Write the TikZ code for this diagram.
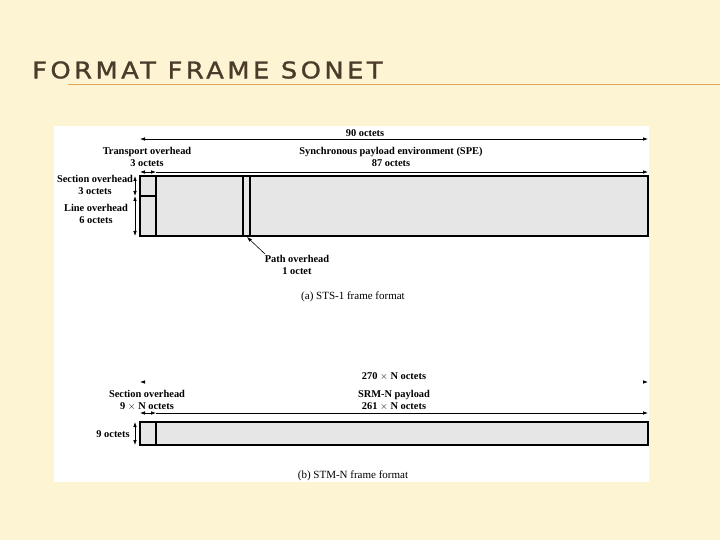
\documentclass[tikz,border=0pt]{standalone}
\usepackage{fontspec}
\setmainfont{Liberation Serif}
\setsansfont{Liberation Sans}
\newfontfamily\titlefont{DejaVu Sans}[FakeStretch=1.12,FakeBold=1.2,LetterSpace=15]
\usetikzlibrary{arrows.meta}

\definecolor{slidebg}{HTML}{FCF4D2}
\definecolor{titlebrown}{HTML}{4A3B2A}
\definecolor{ruleorange}{HTML}{E3A75A}
\definecolor{framegray}{HTML}{E6E6E6}

\tikzset{
  lbl/.style={font=\fontsize{10.4}{11.8}\selectfont\bfseries, align=center, inner sep=0pt},
  caption/.style={font=\fontsize{11}{12}\selectfont, inner sep=0pt},
  dimboth/.style={line width=0.8pt, {Latex[length=5pt,width=3.6pt]}-{Latex[length=5pt,width=3.6pt]}},
  dimright/.style={line width=0.8pt, -{Latex[length=5pt,width=3.6pt]}},
  framebox/.style={line width=1.6pt, fill=framegray},
  colline/.style={line width=1.6pt},
}

\begin{document}
\begin{tikzpicture}[x=1pt,y=-1pt]
\useasboundingbox (0,0) rectangle (720,540);
\fill[slidebg] (0,0) rectangle (720,540);

% title
\node[anchor=west, inner sep=0pt, text=titlebrown,
  font=\titlefont\fontsize{23}{28}\selectfont] (title) at (32,70) {FORMAT FRAME SONET};
\draw[ruleorange, line width=1pt] (68,85) -- (720,85);

% white panel
\fill[white] (54,126) rectangle (649,482);

% (a) STS-1 frame
\coordinate (a-l) at (140,176);
\coordinate (a-r) at (648,236);
\draw[framebox] (a-l) rectangle (a-r);
\draw[colline] (156,176) -- (156,236);
\draw[colline] (140,196) -- (156,196);
\draw[colline] (243,176) -- (243,236);
\draw[colline] (250,176) -- (250,236);

\node[lbl] (a-total) at (365,133) {90 octets};
\coordinate (a-total-l) at (140,139);
\coordinate (a-total-r) at (648,139);
\draw[dimboth] (a-total-l) -- (a-total-r);

\node[lbl] (a-toh) at (147,157) {Transport overhead\\3 octets};
\node[lbl] (a-spe) at (391,157) {Synchronous payload environment (SPE)\\87 octets};
\coordinate (a-toh-l) at (140,172);
\coordinate (a-toh-r) at (156,172);
\coordinate (a-spe-r) at (648,172);
\draw[dimboth] (a-toh-l) -- (a-toh-r);
\draw[dimright] (a-toh-r) -- (a-spe-r);

\node[lbl] (a-soh) at (95,185) {Section overhead\\3 octets};
\node[lbl] (a-loh) at (96,214) {Line overhead\\6 octets};
\coordinate (a-v1) at (135,176);
\coordinate (a-v2) at (135,196);
\coordinate (a-v3) at (135,236);
\draw[dimboth] (a-v1) -- (a-v2);
\draw[dimboth] (a-v2) -- (a-v3);

\node[lbl] (a-poh) at (297,265) {Path overhead\\1 octet};
\coordinate (a-poh-tail) at (265,254);
\coordinate (a-poh-tip) at (247,237);
\draw[dimright, line width=0.6pt] (a-poh-tail) -- (a-poh-tip);

\node[caption] (a-cap) at (353,297) {(a) STS-1 frame format};

% (b) STM-N frame
\coordinate (b-l) at (140,422);
\coordinate (b-r) at (648,445);
\draw[framebox] (b-l) rectangle (b-r);
\draw[colline] (156,422) -- (156,445);

\node[lbl] (b-total) at (394,376) {270 $\times$ N octets};
\coordinate (b-total-l) at (140,382);
\coordinate (b-total-r) at (648,382);
\draw[dimboth, white, {Latex[length=5pt,width=3.6pt,black]}-{Latex[length=5pt,width=3.6pt,black]}] (b-total-l) -- (b-total-r);

\node[lbl] (b-soh) at (147,400) {Section overhead\\9 $\times$ N octets};
\node[lbl] (b-pay) at (394,400) {SRM-N payload\\261 $\times$ N octets};
\coordinate (b-soh-l) at (140,413);
\coordinate (b-soh-r) at (156,413);
\coordinate (b-pay-r) at (648,413);
\draw[dimboth] (b-soh-l) -- (b-soh-r);
\draw[dimright] (b-soh-r) -- (b-pay-r);

\node[lbl] (b-rows) at (113,434) {9 octets};
\coordinate (b-v1) at (135,422);
\coordinate (b-v2) at (135,445);
\draw[dimboth] (b-v1) -- (b-v2);

\node[caption] (b-cap) at (353,476) {(b) STM-N frame format};
\end{tikzpicture}
\end{document}
